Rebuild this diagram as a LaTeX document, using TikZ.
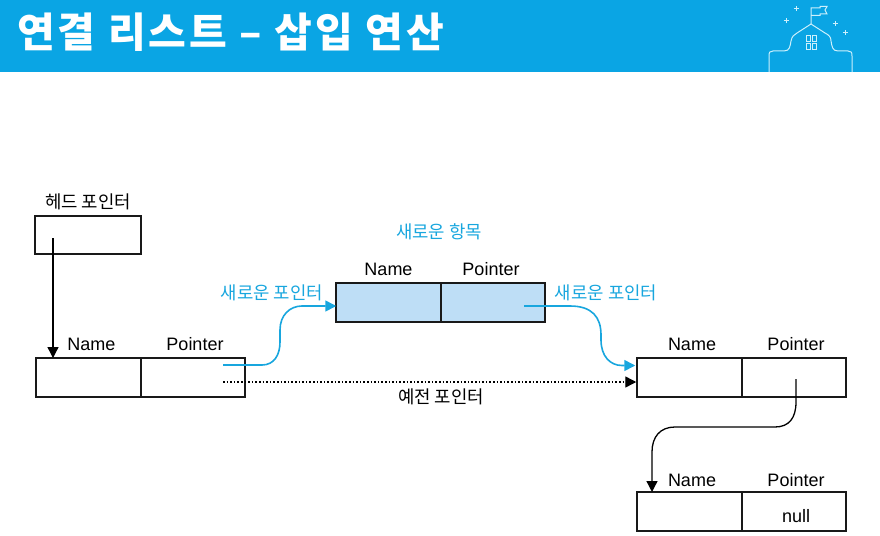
\documentclass[tikz,border=0pt]{standalone}
\usepackage{fontspec}
\setmainfont{Liberation Sans}
\newfontfamily\krfont{Noto Sans CJK KR}
\newfontfamily\krtitle[LetterSpace=7.5]{Noto Sans CJK KR}
\usetikzlibrary{positioning}
\usetikzlibrary{arrows.meta}
\usetikzlibrary{calc}
\definecolor{band}{RGB}{10,165,228}
\definecolor{skyline}{RGB}{24,166,222}
\definecolor{newfill}{RGB}{190,222,246}
\definecolor{iconline}{RGB}{205,240,252}
\tikzset{
  cell/.style={draw=black!90, line width=1.7pt, minimum height=39pt, inner sep=0pt, outer sep=0pt},
  wide/.style={cell, minimum width=104.5pt},
  newcell/.style={wide, fill=newfill, line width=2pt},
  field/.style={font=\fontsize{18}{20}\selectfont, inner sep=0pt},
  krlabel/.style={font=\krfont\fontsize{17.8}{20}\selectfont, inner sep=0pt},
  krblue/.style={krlabel, text=skyline},
  blueptr/.style={draw=skyline, line width=1.6pt, -{Triangle[length=11pt,width=11pt]}},
  blackptr/.style={draw=black, line width=1.3pt, -{Triangle[length=11pt,width=11pt]}},
  oldptr/.style={draw=black, line width=1.4pt, dash pattern=on 1.6pt off 2pt, -{Triangle[length=11pt,width=11pt]}},
}

\begin{document}
\begin{tikzpicture}[x=1pt, y=-1pt]
  \useasboundingbox (0,0) rectangle (880,535);

  %---------------------------------------
  % Header band
  %---------------------------------------
  \fill[band] (0,0) rectangle (880,72);
  \node[text=white, inner sep=0pt, anchor=west, font=\krtitle\bfseries\fontsize{41}{46}\selectfont] (title) at (17,32) {연결 리스트 – 삽입 연산};

  % ---- School icon ----
  \begin{scope}[draw=iconline, line width=1pt]
    \draw (769,72) -- (769,56) .. controls (769,52) and (770,51) .. (773,51)
      -- (784,51) .. controls (790,51) and (790,46) .. (791,41)
      .. controls (792,36) and (794,35) .. (797,33)
      -- (811,24) -- (825,33) .. controls (829,35) and (831,37) .. (831,41)
      .. controls (832,46) and (832,51) .. (838,51)
      -- (848,51) .. controls (851,51) and (852,52) .. (852,56) -- (852,72);
    \draw (811,24) -- (811,8) -- (820,8) -- (820,6.5) -- (827,6.5) -- (825,10) -- (827,14) -- (820,14) -- (820,15.5) -- (811,15.5);
    \draw (806,36) rectangle (810,42);
    \draw (812,36) rectangle (816,42);
    \draw (806,44) rectangle (810,50);
    \draw (812,44) rectangle (816,50);
    \draw (796,6.5) -- (796,11.5) (793.5,9) -- (798.5,9);
    \draw (786,18.5) -- (786,23.5) (783.5,21) -- (788.5,21);
    \draw (835,21.5) -- (835,26.5) (832.5,24) -- (837.5,24);
    \draw (845,30.5) -- (845,35.5) (842.5,33) -- (847.5,33);
  \end{scope}

  %---------------------------------------
  % Head pointer
  %---------------------------------------
  \node[krlabel] (headlabel) at (88,202) {헤드 포인터};
  \node[cell, minimum width=106pt, minimum height=38pt] (head) at (88,235) {};

  %---------------------------------------
  % List cells
  %---------------------------------------
  \node[wide] (nameA) at (88.5,377.5) {};
  \node[wide, right=0pt of nameA] (ptrA) {};
  \node[newcell] (nameN) at (388.5,302.5) {};
  \node[newcell, right=0pt of nameN] (ptrN) {};
  \node[wide] (nameB) at (689.5,377.5) {};
  \node[wide, right=0pt of nameB] (ptrB) {};
  \node[wide] (nameC) at (689.5,511.5) {};
  \node[wide, right=0pt of nameC] (ptrC) {};

  % Field labels
  \node[field] (tagNameA) at (91.5,344) {Name};
  \node[field] (tagPtrA)  at (195,344) {Pointer};
  \node[field] (tagNameN) at (388.5,269) {Name};
  \node[field] (tagPtrN)  at (491,269) {Pointer};
  \node[field] (tagNameB) at (692,344) {Name};
  \node[field] (tagPtrB)  at (796,344) {Pointer};
  \node[field] (tagNameC) at (692,480) {Name};
  \node[field] (tagPtrC)  at (796,480) {Pointer};
  \node[field] (nullval) at (796,516) {null};

  % Other labels
  \node[krblue] (newitem) at (439,232) {새로운 항목};
  \node[krblue] (newptrL) at (272,293) {새로운 포인터};
  \node[krblue] (newptrR) at (606,293) {새로운 포인터};
  \node[krlabel] (oldlabel) at (441,397) {예전 포인터};

  %---------------------------------------
  % Pointers
  %---------------------------------------
  \coordinate (headstart) at (53,238);
  \coordinate (startA) at (223,365);
  \coordinate (startOld) at (223,382);
  \coordinate (startN) at (524,306);
  \coordinate (startB) at (796,379);
  \coordinate (endN) at ($(nameN.west)+(0,3.5)$);
  \coordinate (endB) at ($(nameB.west)+(-2,-12)$);
  \coordinate (endOld) at ($(nameB.west)+(-1,4.5)$);

  \draw[blackptr] (headstart) -- (headstart |- nameA.north);
  \draw[oldptr] (startOld) -- (endOld);

  \draw[blueptr] (startA) -- (262,365)
    .. controls (274,365) and (280,355) .. (280,342) -- (280,330)
    .. controls (280,315) and (290,306) .. (302,306) -- (endN);

  \draw[blueptr] (startN) -- (570,306)
    .. controls (592,306) and (601,317) .. (601,335) -- (601,340)
    .. controls (601,356) and (610,365.5) .. (622,365.5) -- (endB);

  \draw[blackptr] (startB) -- (796,402)
    .. controls (796,418) and (789,427) .. (775,427) -- (675,427)
    .. controls (660,427) and (652,437) .. (652,452) -- (652,492);
\end{tikzpicture}
\end{document}
